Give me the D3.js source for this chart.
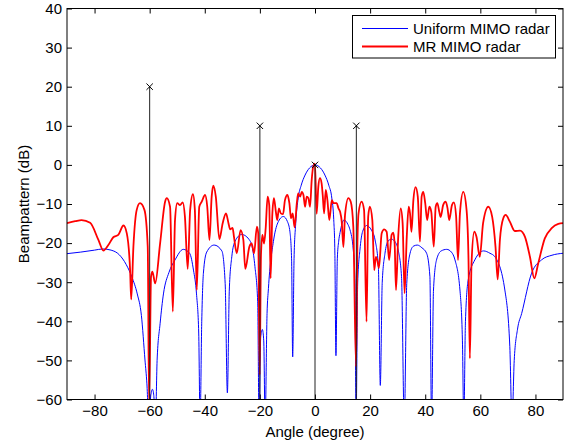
<!DOCTYPE html>
<html><head><meta charset="utf-8">
<script src="https://cdn.jsdelivr.net/npm/d3@7"></script>
<style>
html,body{margin:0;padding:0;background:#fff;}
svg text{font-family:"Liberation Sans",Arial,Helvetica,sans-serif;}
</style></head>
<body><svg id="chart" width="565" height="445"></svg>
<script>
// ---- data ----
const xTicks = [-80,-60,-40,-20,0,20,40,60,80];
const yTicks = [-60,-50,-40,-30,-20,-10,0,10,20,30,40];
const seriesNames = ["Uniform MIMO radar","MR MIMO radar"];
const targetAngles = [-60,-20,0,15];
const targetPowers = [20,10,0,10];

// [angle (deg), beampattern (dB)]
const uniformMIMO = [
[-90,-22.7],[-85,-22.3],[-80,-21.8],[-77,-21.5],[-74,-21.8],[-71,-23],[-68.5,-25.5],[-66.5,-28.6],[-64.5,-33],[-63,-38.5],[-61.7,-49.9],[-61,-56],[-60.3,-66],
[-59.6,-59],[-59.0,-57.4],[-58.5,-59],[-57.9,-66],[-57.3,-50],[-56.2,-40.5],[-55,-33],[-53,-27.5],[-50.8,-24.3],[-47.8,-21.6],[-45.5,-22.6],[-44.1,-26.9],[-43,-33],[-42.2,-43],[-41.7,-66],
[-41.1,-40],[-40.5,-27.7],[-39.3,-22.3],[-36.6,-20.5],[-33.8,-22.0],[-32.6,-30.3],[-31.8,-58.3],[-31.1,-32],[-30.2,-23.5],[-29.0,-19.5],[-26.6,-17.8],[-23.6,-19.4],[-21.8,-26.0],[-20.8,-35],[-20.3,-66],
[-19.7,-44],[-19.1,-42.1],[-18.6,-45],[-18.1,-66],[-17.4,-38],[-16.9,-31.6],[-15.1,-19.6],[-13.5,-14.8],[-11.5,-13.2],[-10,-14.5],[-9.1,-17.1],[-8.5,-24],[-8.1,-49.1],
[-7.6,-24],[-7.0,-15],[-6.1,-8.5],[-5,-5.2],[-3.6,-2.6],[-2,-0.8],[0,0],[2,-0.8],[3.6,-2.6],[5,-5.2],[6.1,-8.5],[6.8,-14],[7.2,-22],[7.6,-48.8],
[8.1,-24],[8.6,-19.5],[9.1,-17.3],[10.5,-14.1],[12.0,-15.3],[12.7,-16.6],[13.9,-21.8],[14.5,-30],[14.9,-66],[15.5,-30],[16.3,-21.8],[17.3,-17],[18.7,-15.5],[20.5,-16.7],[21.8,-19.2],[23.0,-26.0],[23.7,-56.4],
[24.4,-30],[25.4,-22.6],[26.5,-19.5],[27.8,-19.0],[29.2,-19.8],[30.2,-21.8],[31.4,-28.6],[32.4,-66],[33.3,-30.3],[34.5,-22.6],[35.7,-20.8],[37.1,-20.5],[38.8,-21.2],[40.5,-22.6],[41.7,-28.6],[42.3,-66],
[43.0,-32],[44.1,-24.3],[45.8,-22.0],[47.8,-21.6],[49.5,-22.3],[50.8,-24.3],[52.6,-32],[53.5,-45],[54.0,-66],[54.6,-40],[55.6,-29.4],[58,-24.3],[61.2,-22.0],[63.5,-22.6],[65.3,-23.5],[68.9,-32],[70.7,-46.5],[71.5,-66],
[72.3,-50],[73.5,-42],[75,-38],[78.6,-27.7],[82.2,-24.3],[86,-23.1],[90,-22.6]
];

const mrMIMO = [
[-90,-14.9],[-87,-14.4],[-84.7,-14.1],[-81.6,-14.8],[-78.6,-19.2],[-76.8,-21.9],[-75,-20.5],[-73.2,-18.5],[-71.4,-17.9],[-69.5,-15.5],[-68.3,-17.5],[-67.1,-26.9],[-66.7,-34.4],
[-65.9,-20.9],[-64.7,-11.5],[-63.5,-9.8],[-61.9,-11.5],[-60.7,-20.9],[-60.2,-62],[-59.5,-28.6],[-59.0,-27.3],[-58.0,-30.3],[-56.2,-20.0],[-54.4,-9.4],[-53.8,-8.5],[-52.6,-10.7],
[-51.6,-37.5],[-50.8,-14.1],[-50,-9.8],[-49,-10.3],[-48,-9.6],[-47.2,-13.3],[-46.2,-26.6],[-45.3,-11.5],[-44.3,-7.5],[-43.6,-11.5],[-42.9,-32.0],[-42,-10.7],[-41.1,-9.4],[-39.9,-7.7],
[-39.1,-10.7],[-38.3,-19.2],[-37.5,-8.1],[-36.9,-5.3],[-36.0,-8.1],[-34.7,-19.0],[-33.5,-14.9],[-32.3,-12.4],[-31.4,-14.9],[-30.8,-16.5],[-29.9,-16.1],[-29.4,-18.4],[-28.4,-22.6],
[-27.0,-16.7],[-26.0,-19.2],[-25.3,-26.6],[-23.8,-20.9],[-23.0,-20.1],[-22.1,-22.6],[-21.1,-15.8],[-20.6,-17.5],[-20.1,-53.7],[-19.6,-23.0],[-19.1,-17.9],[-18.5,-20.1],[-17.9,-16.2],
[-17.2,-8.1],[-16.6,-10.3],[-16.1,-29.0],[-15.5,-12.8],[-14.9,-8.5],[-14.2,-12.0],[-13.7,-14.1],[-13.1,-11.1],[-12.4,-12.4],[-11.6,-12.6],[-10.9,-9.0],[-10.0,-7.7],[-9.3,-9.8],
[-8.7,-13.7],[-8.1,-12.4],[-7.4,-16.0],[-6.6,-9.8],[-6.1,-7.3],[-5.4,-8.1],[-4.8,-6.9],[-4.2,-7.7],[-3.6,-10.7],[-3.0,-8.1],[-2.4,-8.5],[-1.8,-10.7],[-1.2,-3.9],[-0.6,-0.3],[0,0.3],
[0.6,-12.5],[1.2,-5.6],[1.8,-3.4],[2.4,-4.7],[2.8,-7.7],[3.3,-12.4],[3.9,-6.4],[4.5,-9.0],[5.2,-14.1],[6.1,-9.0],[6.7,-9.8],[7.3,-9.8],[7.9,-9.8],[8.5,-11.1],[9.1,-12.0],
[9.7,-14.5],[10.3,-21],[10.9,-12.8],[12.1,-8.5],[13.0,-9.5],[13.9,-15.8],[14.9,-51.6],[15.4,-20],[15.8,-12.4],[16.9,-9.4],[17.8,-11.5],[18.7,-40.1],[19.3,-13.3],[19.9,-10.7],[20.8,-14.1],[21.5,-26.9],
[22.1,-23.5],[22.6,-24.3],[23.2,-26.4],[24.2,-17.5],[25.1,-16.5],[26.0,-17.1],[26.9,-24.3],[27.8,-17.9],[28.4,-17.3],[28.9,-20.1],[29.4,-32.0],[30.2,-18.4],[31.1,-11.1],[31.8,-14.9],
[32.5,-32.8],[33.3,-18.4],[34.0,-10.7],[34.5,-12.5],[35.0,-17.1],[35.7,-9.0],[36.5,-5.7],[37.3,-8.1],[38.1,-19.6],[38.7,-8.1],[39.3,-6.9],[40.0,-9.8],[40.7,-14.1],[41.5,-10.7],
[42.2,-12.0],[43.1,-20.9],[43.8,-10.7],[44.4,-9.8],[45.1,-12.0],[45.6,-13.3],[46.5,-10.3],[47.4,-9.4],[48.1,-11.1],[48.7,-14.1],[49.7,-10.3],[50.4,-9.6],[51.2,-13],[51.9,-24.3],
[52.6,-12.4],[53.8,-6.9],[55.0,-11.5],[55.7,-24],[56.2,-49.5],[56.8,-25.2],[57.8,-17.1],[58.6,-18.4],[59.8,-23.5],[61.0,-14.9],[62.9,-10.7],[64.3,-13.3],[65.5,-20.9],[66.3,-29.3],
[67.1,-19.2],[68.3,-13.7],[69.2,-12.8],[70.7,-14.5],[72.5,-16.9],[74.4,-16.8],[76.2,-18.4],[78.0,-23.5],[79.6,-29.0],[81.0,-25.2],[83.4,-18.8],[85.9,-16.2],[88.3,-15.1],[90,-14.9]
];

// ---- drawing ----
const L = 67, R = 563, T = 8.5, B = 399.5;
const svg = d3.select("#chart");
const x = d3.scaleLinear().domain([-90,90]).range([L,R]);
const y = d3.scaleLinear().domain([-60,40]).range([B,T]);

svg.append("defs").append("clipPath").attr("id","clip")
  .append("rect").attr("x",L).attr("y",T).attr("width",R-L).attr("height",B-T);

const fs = "15px";
const ff = "'Liberation Sans',Arial,Helvetica,sans-serif";
// axes (ticks inward)
const axB = svg.append("g").attr("transform",`translate(0,${B})`)
  .call(d3.axisBottom(x).tickValues(xTicks).tickSizeInner(-5).tickSizeOuter(0).tickPadding(6));
const axL = svg.append("g").attr("transform",`translate(${L},0)`)
  .call(d3.axisLeft(y).tickValues(yTicks).tickSizeInner(-5).tickSizeOuter(0).tickPadding(5));
const axT = svg.append("g").attr("transform",`translate(0,${T})`)
  .call(d3.axisTop(x).tickValues(xTicks).tickSizeInner(-5).tickSizeOuter(0).tickFormat(""));
const axR = svg.append("g").attr("transform",`translate(${R},0)`)
  .call(d3.axisRight(y).tickValues(yTicks).tickSizeInner(-5).tickSizeOuter(0).tickFormat(""));
[axB,axL,axT,axR].forEach(g=>{
  g.select(".domain").remove();
  g.selectAll("line").attr("stroke","#000").attr("stroke-width",1);
  g.selectAll("text").attr("fill","#000").style("font-size",fs).style("font-family",ff);
});

const line = d3.line().x(d=>x(d[0])).y(d=>y(d[1])).curve(d3.curveMonotoneX);
const plot = svg.append("g").attr("clip-path","url(#clip)");
plot.append("path").datum(uniformMIMO).attr("d",line)
  .attr("fill","none").attr("stroke","#0000ff").attr("stroke-width",1);
plot.append("path").datum(mrMIMO).attr("d",line)
  .attr("fill","none").attr("stroke","#ff0000").attr("stroke-width",1.8).attr("stroke-linejoin","round");

// target stems
const targets = targetAngles.map((a,i)=>[a,targetPowers[i]]);
plot.selectAll("line.stem").data(targets).enter().append("line").attr("class","stem")
  .attr("x1",d=>x(d[0])).attr("x2",d=>x(d[0])).attr("y1",y(-60)).attr("y2",d=>y(d[1]))
  .attr("stroke","#222").attr("stroke-width",1);
const ms = 3.2;
svg.selectAll("path.mark").data(targets).enter().append("path").attr("class","mark")
  .attr("d",d=>{const cx=x(d[0]),cy=y(d[1]);return `M${cx-ms},${cy-ms}L${cx+ms},${cy+ms}M${cx-ms},${cy+ms}L${cx+ms},${cy-ms}`;})
  .attr("stroke","#000").attr("stroke-width",1).attr("fill","none");

// box
svg.append("rect").attr("x",L).attr("y",T).attr("width",R-L).attr("height",B-T)
  .attr("fill","none").attr("stroke","#000").attr("stroke-width",1);

// axis titles
svg.append("text").attr("x",x(0)).attr("y",437).attr("text-anchor","middle")
  .style("font-size",fs).style("font-family",ff).text("Angle (degree)");
svg.append("text").attr("transform",`translate(29,${(T+B)/2}) rotate(-90)`).attr("text-anchor","middle")
  .style("font-size",fs).style("font-family",ff).text("Beampattern (dB)");

// legend
const lg = svg.append("g");
lg.append("rect").attr("x",352.5).attr("y",15.5).attr("width",203).attr("height",42.5)
  .attr("fill","#fff").attr("stroke","#000").attr("stroke-width",1);
const legColors = ["#0000ff","#ff0000"], legWidths=[1,1.8], legY=[28.5,46.5];
seriesNames.forEach((n,i)=>{
  lg.append("line").attr("x1",362).attr("x2",408).attr("y1",legY[i]).attr("y2",legY[i])
    .attr("stroke",legColors[i]).attr("stroke-width",legWidths[i]);
  lg.append("text").attr("x",413).attr("y",legY[i]+5.5).style("font-size",fs).style("font-family",ff).text(n);
});
</script></body></html>
